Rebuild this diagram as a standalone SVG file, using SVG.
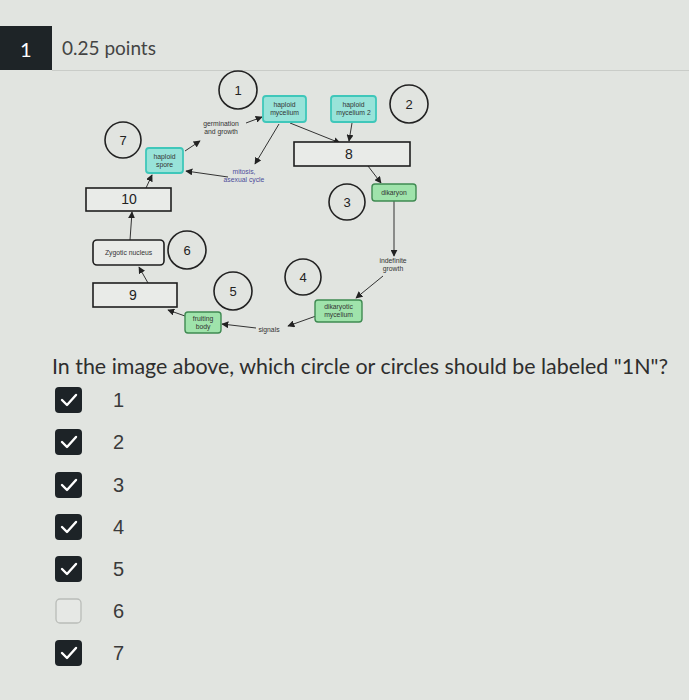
<svg xmlns="http://www.w3.org/2000/svg" width="689" height="700" viewBox="0 0 689 700">
<defs>
<marker id="ah" viewBox="0 0 10 10" refX="9" refY="5" markerWidth="7" markerHeight="7" orient="auto" markerUnits="userSpaceOnUse">
<path d="M0,0 L10,5 L0,10 z" fill="#222"/>
</marker>
<style>
.bg{fill:#e1e4e0}
.circ{fill:none;stroke:#222;stroke-width:1.6}
.cnum{font-family:"Liberation Sans",Arial,sans-serif;font-size:13px;fill:#222;text-anchor:middle}
.teal{fill:#98e3d9;stroke:#3fc7ba;stroke-width:1.8}
.green{fill:#9fe3ab;stroke:#3f8a52;stroke-width:1.4}
.rect{fill:#e9ebe8;stroke:#1e1e1e;stroke-width:1.6}
.small{font-family:"Liberation Sans",Arial,sans-serif;font-size:6.8px;fill:#333;text-anchor:middle}
.blue{fill:#4d4d9a}
.bnum{font-family:"Liberation Sans",Arial,sans-serif;font-size:14px;fill:#222;text-anchor:middle}
.conn{stroke:#333;stroke-width:1;fill:none;marker-end:url(#ah)}
.q{font-family:Lato,"Open Sans",sans-serif;fill:#2e2e2e}
.cb{fill:#1d2327}
.chk{fill:none;stroke:#fff;stroke-width:2.4;stroke-linecap:round;stroke-linejoin:round}
.ans{font-family:"Liberation Sans",Arial,sans-serif;font-size:20px;fill:#3a3a3a}
</style>
</defs>
<rect class="bg" x="0" y="0" width="689" height="700"/>
<g id="header">
<rect x="0" y="26" width="52" height="44" fill="#1e2427"/>
<text x="20" y="57" font-family="Lato,'Open Sans',sans-serif" font-size="20" fill="#fff">1</text>
<text x="62" y="55" font-family="Lato,'Open Sans',sans-serif" font-size="19" fill="#444">0.25 points</text>
<line x1="52" y1="70.5" x2="689" y2="70.5" stroke="#c9ccc8" stroke-width="1"/>
</g>
<g id="connectors">
<line class="conn" x1="246" y1="123" x2="262" y2="117"/>
<line class="conn" x1="185" y1="151" x2="200" y2="141"/>
<line class="conn" x1="290" y1="123" x2="340" y2="143"/>
<line class="conn" x1="352" y1="123" x2="349" y2="141"/>
<line class="conn" x1="279" y1="124" x2="255" y2="164"/>
<line class="conn" x1="228" y1="177" x2="186" y2="171"/>
<line class="conn" x1="146" y1="188" x2="152" y2="175"/>
<line class="conn" x1="368" y1="166" x2="381" y2="183"/>
<line class="conn" x1="394" y1="201" x2="394" y2="256"/>
<line class="conn" x1="383" y1="276" x2="356" y2="298"/>
<line class="conn" x1="316" y1="316" x2="288" y2="326"/>
<line class="conn" x1="256" y1="328" x2="222" y2="324"/>
<line class="conn" x1="185" y1="316" x2="168" y2="310"/>
<line class="conn" x1="148" y1="283" x2="139" y2="267"/>
<line class="conn" x1="130" y1="240" x2="132" y2="212"/>
</g>
<g id="circle1"><circle class="circ" cx="238" cy="90" r="19"/><text class="cnum" x="238" y="95">1</text></g>
<g id="circle2"><circle class="circ" cx="409" cy="104" r="19"/><text class="cnum" x="409" y="109">2</text></g>
<g id="circle3"><circle class="circ" cx="347" cy="202" r="18"/><text class="cnum" x="347" y="207">3</text></g>
<g id="circle4"><circle class="circ" cx="303" cy="277" r="18"/><text class="cnum" x="303" y="282">4</text></g>
<g id="circle5"><circle class="circ" cx="233" cy="291" r="19"/><text class="cnum" x="233" y="296">5</text></g>
<g id="circle6"><circle class="circ" cx="187" cy="250" r="19"/><text class="cnum" x="187" y="255">6</text></g>
<g id="circle7"><circle class="circ" cx="123" cy="140" r="18"/><text class="cnum" x="123" y="145">7</text></g>
<g id="haploid-mycelium"><rect class="teal" x="263" y="96" width="43" height="26" rx="3"/><text class="small" x="284.5" y="107">haploid</text><text class="small" x="284.5" y="115">mycelium</text></g>
<g id="haploid-mycelium-2"><rect class="teal" x="331" y="96" width="45" height="26" rx="3"/><text class="small" x="353.5" y="107">haploid</text><text class="small" x="353.5" y="115">mycelium 2</text></g>
<g id="germination"><text class="small" x="221" y="126">germination</text><text class="small" x="221" y="134">and growth</text></g>
<g id="haploid-spore"><rect class="teal" x="146" y="148" width="37" height="25" rx="3"/><text class="small" x="164.5" y="159">haploid</text><text class="small" x="164.5" y="167">spore</text></g>
<g id="box8"><rect class="rect" x="294" y="142" width="116" height="24"/><text class="bnum" x="349" y="159">8</text></g>
<g id="mitosis"><text class="small blue" x="244" y="174">mitosis,</text><text class="small blue" x="244" y="182">asexual cycle</text></g>
<g id="box10"><rect class="rect" x="86" y="188" width="85" height="23"/><text class="bnum" x="129" y="204">10</text></g>
<g id="dikaryon"><rect class="green" x="372" y="184" width="44" height="17" rx="3"/><text class="small" x="394" y="195">dikaryon</text></g>
<g id="indefinite-growth"><text class="small" x="393" y="263">indefinite</text><text class="small" x="393" y="271">growth</text></g>
<g id="dikaryotic-mycelium"><rect class="green" x="315" y="300" width="47" height="22" rx="3"/><text class="small" x="338.5" y="309">dikaryotic</text><text class="small" x="338.5" y="317">mycelium</text></g>
<g id="signals"><text class="small" x="269" y="332">signals</text></g>
<g id="fruiting-body"><rect class="green" x="185" y="312" width="36" height="21" rx="3"/><text class="small" x="203" y="321">fruiting</text><text class="small" x="203" y="329">body</text></g>
<g id="box9"><rect class="rect" x="93" y="283" width="84" height="24"/><text class="bnum" x="133" y="300">9</text></g>
<g id="zygotic-nucleus"><rect class="rect" x="93" y="240" width="71" height="25" rx="4"/><text class="small" x="128.5" y="255">Zygotic nucleus</text></g>
<g id="question">
<text class="q" x="52" y="374" font-size="21.5" textLength="616" lengthAdjust="spacingAndGlyphs">In the image above, which circle or circles should be labeled "1N"?</text>
</g>
<g id="answers">
<rect class="cb" x="55" y="387" width="27" height="26" rx="4"/><path class="chk" d="M62,400 L67,405 L76,395"/><text class="ans" x="113" y="407">1</text>
<rect class="cb" x="55" y="429" width="27" height="26" rx="4"/><path class="chk" d="M62,442 L67,447 L76,437"/><text class="ans" x="113" y="449">2</text>
<rect class="cb" x="55" y="472" width="27" height="26" rx="4"/><path class="chk" d="M62,485 L67,490 L76,480"/><text class="ans" x="113" y="492">3</text>
<rect class="cb" x="55" y="514" width="27" height="26" rx="4"/><path class="chk" d="M62,527 L67,532 L76,522"/><text class="ans" x="113" y="534">4</text>
<rect class="cb" x="55" y="556" width="27" height="26" rx="4"/><path class="chk" d="M62,569 L67,574 L76,564"/><text class="ans" x="113" y="576">5</text>
<rect x="56" y="599" width="25" height="24" rx="4" fill="#e6e8e5" stroke="#b9bcb8" stroke-width="1.3"/><text class="ans" x="113" y="618">6</text>
<rect class="cb" x="55" y="640" width="27" height="26" rx="4"/><path class="chk" d="M62,653 L67,658 L76,648"/><text class="ans" x="113" y="660">7</text>
</g>
</svg>
